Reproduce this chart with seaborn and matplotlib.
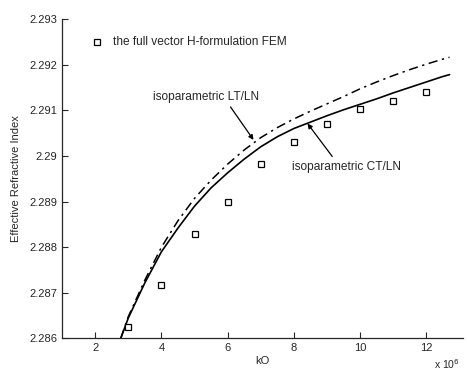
import matplotlib
matplotlib.use("Agg")
import matplotlib.pyplot as plt
import seaborn as sns
import pandas as pd

# FEM reference points
fem_k0 = [3, 4, 5, 6, 7, 8, 9, 10, 11, 12]
fem_neff = [2.28625, 2.28718, 2.28829, 2.28900, 2.28982, 2.29031, 2.29070, 2.29102, 2.29120, 2.29141]

# isoparametric CT/LN (solid)
ct_k0 = [2.77, 3.0, 3.5, 4.0, 4.5, 5.0, 5.5, 6.0, 6.5, 7.0, 7.5, 8.0, 8.5, 9.0, 9.5, 10.0, 10.5, 11.0, 11.5, 12.0, 12.5, 12.7]
ct_neff = [2.28600, 2.28645, 2.28722, 2.28790, 2.28842, 2.28890, 2.28930, 2.28963, 2.28993, 2.29020, 2.29042,
           2.29060, 2.29074, 2.29088, 2.29101, 2.29113, 2.29125, 2.29138, 2.29150, 2.29162, 2.29174, 2.29178]

# isoparametric LT/LN (dash-dot)
lt_k0 = [2.77, 3.0, 3.5, 4.0, 4.5, 5.0, 5.5, 6.0, 6.5, 7.0, 7.5, 8.0, 8.5, 9.0, 9.5, 10.0, 10.5, 11.0, 11.5, 12.0, 12.5, 12.7]
lt_neff = [2.28600, 2.28648, 2.28728, 2.28800, 2.28858, 2.28907, 2.28947, 2.28982, 2.29013, 2.29040, 2.29062,
           2.29081, 2.29098, 2.29114, 2.29130, 2.29147, 2.29162, 2.29176, 2.29189, 2.29201, 2.29212, 2.29216]

xticks = [2, 4, 6, 8, 10, 12]
yticks = [2.286, 2.287, 2.288, 2.289, 2.29, 2.291, 2.292, 2.293]
ytick_labels = ["2.286", "2.287", "2.288", "2.289", "2.29", "2.291", "2.292", "2.293"]

sns.set_style("ticks")
plt.rcParams['font.family'] = ['Liberation Sans', 'DejaVu Sans']
plt.rcParams['xtick.direction'] = 'in'
plt.rcParams['ytick.direction'] = 'in'

fig = plt.figure(figsize=(4.67, 3.79), dpi=100)
ax = fig.add_axes([0.133, 0.107, 0.858, 0.843])

df_ct = pd.DataFrame({"k0": ct_k0, "neff": ct_neff})
df_lt = pd.DataFrame({"k0": lt_k0, "neff": lt_neff})
df_fem = pd.DataFrame({"k0": fem_k0, "neff": fem_neff})

sns.lineplot(data=df_ct, x="k0", y="neff", ax=ax, color="black", linewidth=1.2, sort=True)
sns.lineplot(data=df_lt, x="k0", y="neff", ax=ax, color="black", linewidth=1.1, sort=True)
ax.lines[-1].set_linestyle((0, (6, 3, 1.5, 3)))
ax.plot(df_fem["k0"], df_fem["neff"], linestyle="none", marker="s", markersize=5,
        markerfacecolor="white", markeredgecolor="black", markeredgewidth=0.9)

ax.set_xlim(1, 13.1)
ax.set_ylim(2.286, 2.293)
ax.set_xticks(xticks)
ax.set_xticklabels([str(t) for t in xticks], fontsize=8)
ax.set_yticks(yticks)
ax.set_yticklabels(ytick_labels, fontsize=8)
ax.tick_params(length=4, width=0.8)
sns.despine(ax=ax)
for s in ["left", "bottom"]:
    ax.spines[s].set_linewidth(0.9)

ax.set_xlabel("kO", fontsize=8, labelpad=2)
ax.set_ylabel("Effective Refractive Index", fontsize=8, labelpad=6)
fig.text(0.985, 0.02, r"x 10$^{6}$", ha="right", va="bottom", fontsize=7.5)

# legend-like entry
ax.plot([2.06], [2.2925], linestyle="none", marker="s", markersize=5,
        markerfacecolor="white", markeredgecolor="black", markeredgewidth=0.9)
ax.text(2.55, 2.2925, "the full vector H-formulation FEM", fontsize=8.6, va="center", ha="left")

ax.annotate("isoparametric LT/LN", xy=(6.78, 2.29035), xytext=(3.75, 2.2913),
            fontsize=8.6, ha="left", va="center",
            arrowprops=dict(arrowstyle="-|>", color="black", lw=0.9, mutation_scale=7,
                            shrinkA=1, shrinkB=0, relpos=(0.7, 0.0)))
ax.annotate("isoparametric CT/LN", xy=(8.41, 2.29071), xytext=(7.94, 2.28976),
            fontsize=8.6, ha="left", va="center",
            arrowprops=dict(arrowstyle="-|>", color="black", lw=0.9, mutation_scale=7,
                            shrinkA=1, shrinkB=0, relpos=(0.4, 1.0)))

fig.savefig("out.png", dpi=100)
